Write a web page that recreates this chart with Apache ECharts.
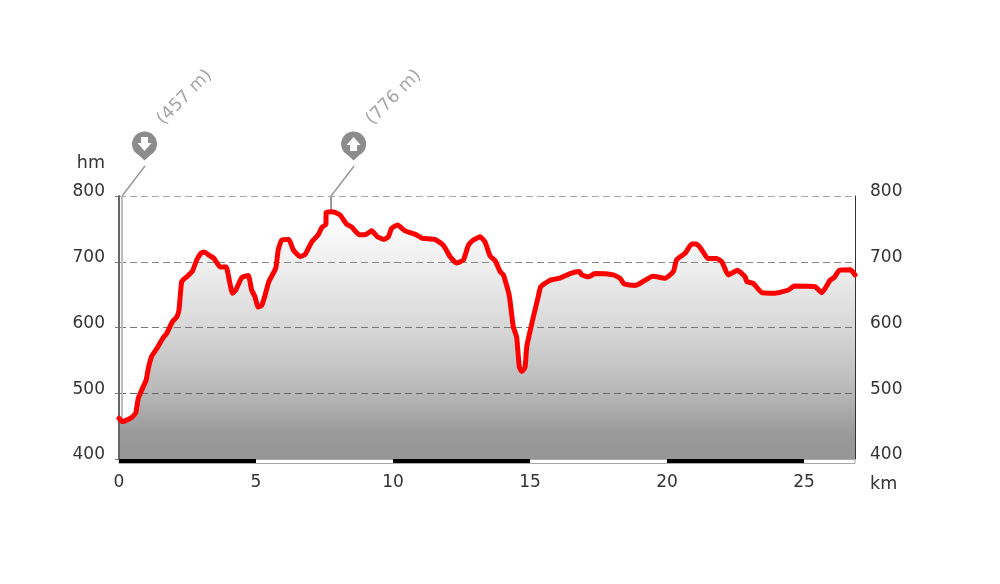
<!DOCTYPE html>
<html>
<head>
<meta charset="utf-8">
<style>html,body{margin:0;padding:0;background:#fff}#c{width:1000px;height:584px}</style>
<script src="https://cdn.jsdelivr.net/npm/echarts@6/dist/echarts.min.js"></script>
</head>
<body>
<div id="c"></div>
<script>
const distanceKm = [0,0.11,0.22,0.46,0.61,0.70,0.83,0.99,1.07,1.19,1.38,1.62,1.74,1.95,2.11,2.19,2.29,2.47,2.68,2.84,2.99,3.11,3.28,3.47,3.69,3.91,4.01,4.14,4.26,4.48,4.72,4.84,4.96,5.08,5.21,5.33,5.47,5.72,5.81,5.94,6.20,6.36,6.61,6.79,7.03,7.27,7.40,7.55,7.56,7.74,7.88,8.07,8.31,8.49,8.77,8.98,9.22,9.43,9.67,9.83,9.95,10.16,10.44,10.80,11.05,11.53,11.84,12.08,12.32,12.57,12.75,12.93,13.18,13.36,13.54,13.72,13.91,14.03,14.24,14.39,14.51,14.61,14.70,14.82,14.88,15.12,15.30,15.39,15.73,16.09,16.46,16.80,16.89,17.13,17.37,18.04,18.28,18.44,18.83,19.01,19.48,19.93,20.23,20.35,20.66,20.90,21.08,21.27,21.49,21.81,22.00,22.24,22.57,22.85,22.91,23.15,23.46,23.94,24.43,24.64,25.40,25.65,25.95,26.10,26.29,26.70,26.86];
const elevationM = [462,457,458,463,470,492,505,520,538,556,568,585,591,609,616,627,670,677,686,703,713,715,710,705,692,692,675,652,657,676,679,657,647,631,634,649,670,690,718,733,734,718,708,711,730,741,752,757,775,776,775,771,757,753,741,741,747,738,734,738,751,756,747,742,736,734,725,708,698,703,725,733,738,730,709,702,685,680,649,601,586,540,533,540,571,616,647,662,672,675,682,685,680,677,682,680,675,666,664,667,678,675,685,703,713,727,727,718,705,705,700,680,687,677,670,667,653,652,657,663,662,653,672,676,687,688,680];
const xTicks = [0,5,10,15,20,25];
const xMax = 26.86;
const yMin = 400, yMax = 800, yStep = 100;
const scaleBands = [[0,5],[10,15],[20,25]];
const extremes = [
  {km:0.11, m:457, text:'(457 m)', dir:'down', stem:'#bbbbbb'},
  {km:7.74, m:776, text:'(776 m)', dir:'up', stem:'#999999'}
];
const FONT = '"DejaVu Sans", sans-serif';
const series = distanceKm.map((d,i)=>[d,elevationM[i]]);
const chart = echarts.init(document.getElementById('c'), null, {renderer:'canvas'});

function scaleBar(params, api){
  const band = scaleBands[params.dataIndex];
  const a = api.coord([band[0], yMin]);
  const b = api.coord([band[1], yMin]);
  return {type:'rect', shape:{x:a[0], y:a[1], width:b[0]-a[0], height:4}, style:{fill:'#000'}};
}
function scaleFrame(params, api){
  const a = api.coord([0, yMin]);
  const b = api.coord([xMax, yMin]);
  return {type:'rect', shape:{x:a[0], y:a[1]+0.5, width:b[0]-a[0], height:4}, style:{fill:'#fff', stroke:'#aaaaaa', lineWidth:1}};
}
function marker(params, api){
  const e = extremes[params.dataIndex];
  const p = api.coord([e.km, e.m]);
  const t = api.coord([e.km, yMax]);
  const x = t[0], y = t[1];
  const cx = x+22.5, cy = y-52;
  const arrow = e.dir==='down'
    ? [[cx-3.5,cy-7],[cx+3.5,cy-7],[cx+3.5,cy-1],[cx+7,cy-1],[cx,cy+7],[cx-7,cy-1],[cx-3.5,cy-1]]
    : [[cx-3.5,cy+7],[cx+3.5,cy+7],[cx+3.5,cy+1],[cx+7,cy+1],[cx,cy-7],[cx-7,cy+1],[cx-3.5,cy+1]];
  return {type:'group', children:[
    {type:'line', shape:{x1:x,y1:y,x2:x,y2:p[1]}, style:{stroke:e.stem,lineWidth:2}},
    {type:'line', shape:{x1:x,y1:y,x2:x+23,y2:y-30}, style:{stroke:'#999999',lineWidth:1.5}},
    {type:'circle', shape:{cx:cx,cy:cy,r:12.5}, style:{fill:'#8c8c8c'}},
    {type:'polygon', shape:{points:[[cx-10,cy+7],[cx+10,cy+7],[cx,cy+16.5]]}, style:{fill:'#8c8c8c'}},
    {type:'polygon', shape:{points:arrow}, style:{fill:'#fff'}},
    {type:'text', x:x+38, y:y-74, rotation:Math.PI/4, style:{text:e.text, fill:'#a6a6a6', font:'17.5px '+FONT, textAlign:'left', textVerticalAlign:'middle'}}
  ]};
}

chart.setOption({
  animation:false,
  backgroundColor:'#fff',
  grid:{left:119,right:145,top:196,bottom:125,containLabel:false},
  xAxis:{
    type:'value',min:0,max:xMax,interval:5,z:2,
    name:'km',nameLocation:'end',nameGap:15,
    nameTextStyle:{color:'#333',fontFamily:FONT,fontSize:17.5,verticalAlign:'top',padding:[16,0,0,0]},
    axisLine:{show:false},axisTick:{show:false},splitLine:{show:false},
    axisLabel:{color:'#333',fontFamily:FONT,fontSize:17,margin:15,showMaxLabel:false,
      formatter:v=>xTicks.includes(v)?String(v):''}
  },
  yAxis:[{
    type:'value',min:yMin,max:yMax,interval:yStep,z:2,
    name:'hm',nameLocation:'end',nameGap:24,
    nameTextStyle:{color:'#333',fontFamily:FONT,fontSize:17.5,align:'right',padding:[0,14,0,0]},
    axisLine:{show:true,lineStyle:{color:'#666',width:2}},
    axisTick:{show:true,length:4,lineStyle:{color:'#777'}},
    splitLine:{show:true,lineStyle:{type:[7,4],color:['#555','#666','#777','#888','#aaa'],width:1.2}},
    axisLabel:{color:'#333',fontFamily:FONT,fontSize:17,margin:14,verticalAlign:'bottom',lineHeight:8}
  },{
    type:'value',min:yMin,max:yMax,interval:yStep,position:'right',z:2,
    axisLine:{show:true,lineStyle:{color:'#333',width:1}},
    axisTick:{show:false},splitLine:{show:false},
    axisLabel:{color:'#333',fontFamily:FONT,fontSize:17,margin:15,verticalAlign:'bottom',lineHeight:8}
  }],
  series:[
    {type:'line',data:series,showSymbol:false,z:1,smooth:0.15,lineStyle:{width:0},silent:true,
     areaStyle:{opacity:1,color:new echarts.graphic.LinearGradient(0,0,0,1,[
       {offset:0,color:'#ffffff'},{offset:0.2,color:'#f0f0f0'},{offset:0.47,color:'#d8d8d8'},
       {offset:0.73,color:'#b8b8b8'},{offset:0.9,color:'#999999'},{offset:1,color:'#969696'}])}},
    {type:'custom',renderItem:scaleFrame,data:[0],clip:false,z:3,silent:true},
    {type:'custom',renderItem:scaleBar,data:scaleBands,clip:false,z:4,silent:true},
    {type:'custom',renderItem:marker,data:extremes.map(e=>[e.km,e.m]),clip:false,z:4,silent:true},
    {type:'line',data:series,showSymbol:false,z:5,clip:true,smooth:0.15,silent:true,
     lineStyle:{color:'#ff0000',width:5,join:'round',cap:'round'}}
  ]
});
</script>
</body>
</html>
